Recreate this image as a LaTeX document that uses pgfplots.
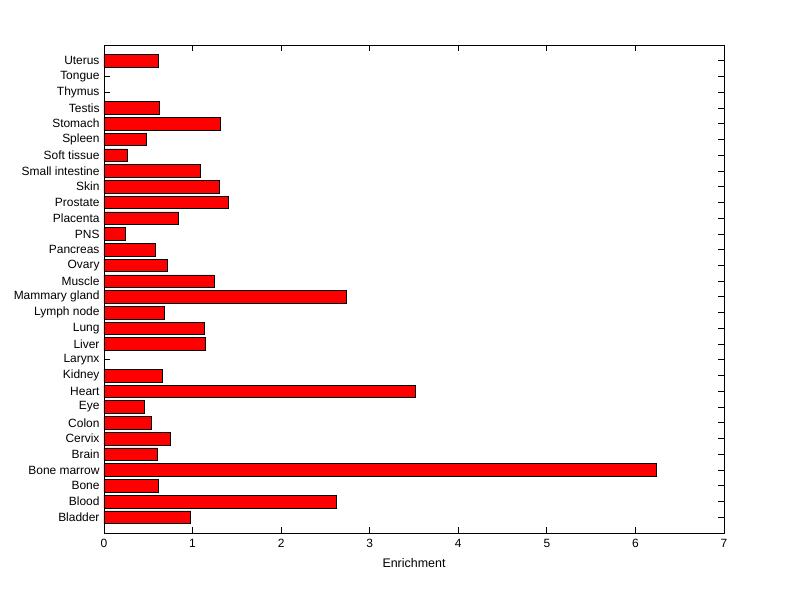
\documentclass[border=0pt]{standalone}
\usepackage{pgfplots}
\pgfplotsset{compat=1.18}
\usepackage{fontspec}
\setmainfont{Liberation Sans}
\begin{document}
\begin{tikzpicture}
\useasboundingbox (-104bp,-66bp) rectangle (696bp,533bp);
\begin{axis}[
  at={(0,0)}, anchor=south west,
  scale only axis, width=620bp, height=488bp,
  xmin=0, xmax=7, ymin=-1, ymax=30,
  xtick={0,1,2,3,4,5,6,7},
  ytick={0,...,29},
  yticklabels={Bladder,Blood,Bone,Bone marrow,Brain,Cervix,Colon,Eye,Heart,Kidney,Larynx,Liver,Lung,Lymph node,Mammary gland,Muscle,Ovary,Pancreas,PNS,Placenta,Prostate,Skin,Small intestine,Soft tissue,Spleen,Stomach,Testis,Thymus,Tongue,Uterus},
  tick align=inside, major tick length=6bp,
  tick style={black, line width=0.8bp},
  axis line style={line width=0.8bp},
  xtick pos=both, ytick pos=both,
  ticklabel style={font=\fontsize{12}{14}\selectfont},
  /pgf/number format/assume math mode=true,
  xlabel={Enrichment},
  xlabel style={font=\fontsize{12.5}{14}\selectfont, yshift=-4bp},
  yticklabel style={xshift=-1bp},
  xticklabel style={yshift=-3bp},
]
\addplot[xbar, bar width=0.8, bar shift=0pt, fill=red, draw=black, line width=0.6bp] coordinates {
(0.976,0) (2.62,1) (0.61,2) (6.24,3) (0.60,4) (0.75,5) (0.53,6) (0.45,7) (3.51,8) (0.66,9)
(1.14,11) (1.13,12) (0.68,13) (2.74,14) (1.24,15) (0.72,16) (0.58,17) (0.24,18) (0.84,19)
(1.40,20) (1.30,21) (1.085,22) (0.26,23) (0.475,24) (1.31,25) (0.63,26) (0.61,29)
};
\end{axis}
\end{tikzpicture}
\end{document}
